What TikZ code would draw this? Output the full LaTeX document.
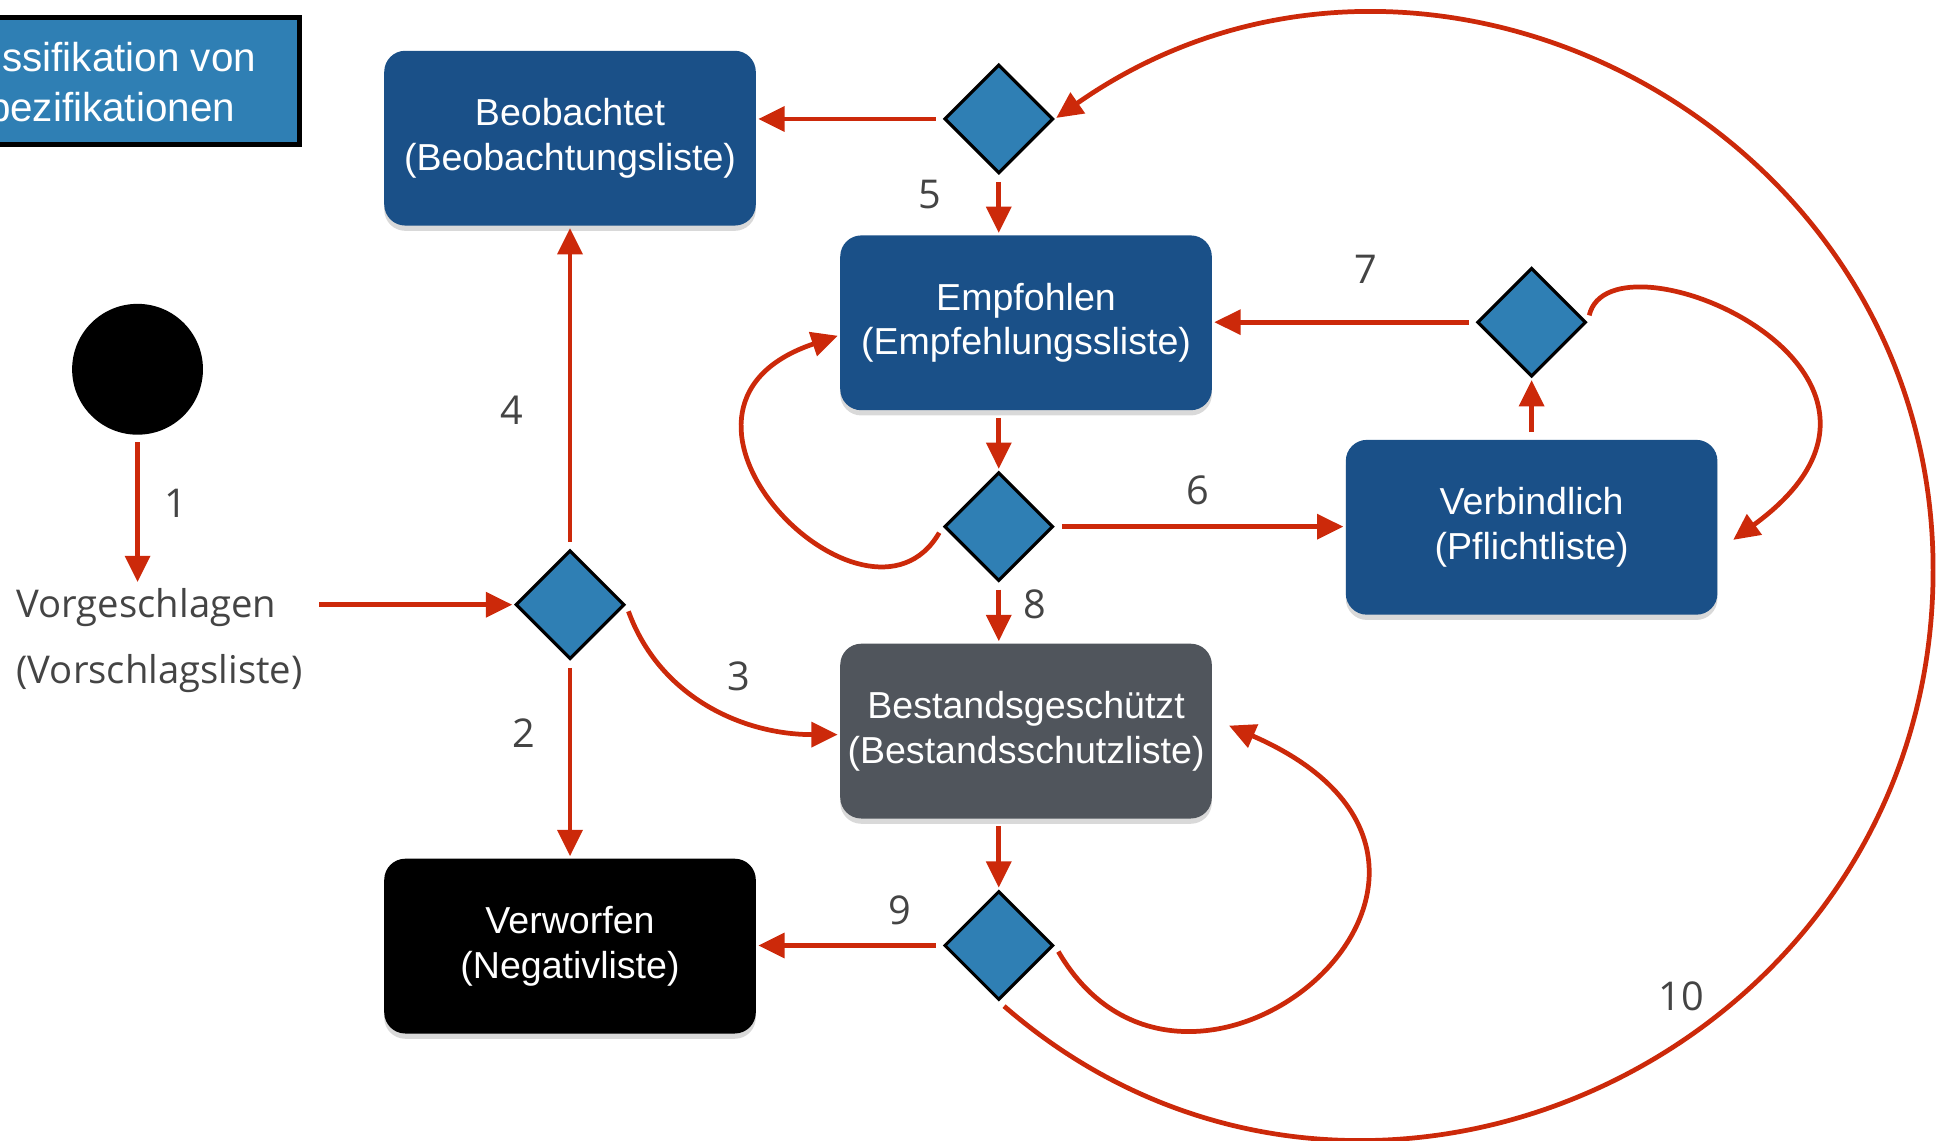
\documentclass[tikz,border=0pt]{standalone}
\usepackage{fontspec}
\setmainfont{Liberation Sans}
\newfontfamily\opensans{Open Sans}
\usetikzlibrary{positioning,calc,arrows.meta,shapes.geometric,shadows}
\definecolor{flowred}{RGB}{204,41,10}
\definecolor{boxblue}{RGB}{26,80,136}
\definecolor{diablue}{RGB}{47,127,180}
\definecolor{boxgray}{RGB}{80,85,92}
\definecolor{txtgray}{RGB}{68,68,68}
\tikzset{font=\fontsize{10.7}{12.7}\selectfont}

\begin{document}
\begin{tikzpicture}[x=0.0124cm, y=0.0124cm]
	\useasboundingbox (0,0) rectangle (1568,920);
	\begin{scope}
		\tikzstyle{every node}=[align=center, inner sep=1pt]
		\tikzstyle{state}=[rectangle, rounded corners=6pt, minimum width=3.72cm, minimum height=1.75cm, fill=boxblue, text=white, drop shadow={shadow xshift=0pt, shadow yshift=-1.5pt, opacity=0.3}]
		\tikzstyle{choice}=[diamond, draw=black, line width=0.9pt, fill=diablue, minimum width=1.09cm, minimum height=1.09cm, inner sep=0pt]
		\tikzstyle{num}=[text=txtgray, font=\opensans\fontsize{11.3}{13}\selectfont]
		\tikzstyle{flow}=[->, >={Triangle[length=7.5pt, width=7pt]}, draw=flowred, line width=1.35pt, shorten <=2pt, shorten >=0.5pt]

		\node[rectangle, draw=black, line width=1.4pt, fill=diablue, minimum width=3.125cm, minimum height=1.277cm] (title) at (116,854.5) {};
		\node[anchor=base east, text=white, font=\fontsize{11.5}{14}\selectfont] (titlea) at (210,862) {ssifikation von};
		\node[anchor=base east, text=white, font=\fontsize{11.5}{14}\selectfont] (titleb) at (193,822) {pezifikationen};

		\node[circle, fill=black, minimum size=1.31cm] (start) at (111,622) {};
		\node[anchor=west, text=txtgray, font=\opensans\fontsize{10.9}{13}\selectfont] (vorg) at (10,430) {Vorgeschlagen};
		\node[anchor=west, text=txtgray, font=\opensans\fontsize{10.9}{13}\selectfont] (vorgl) at (10,376.5) {(Vorschlagsliste)};

		\node[state] (beob) at (460,808.5) {Beobachtet\\(Beobachtungsliste)};
		\node[choice] (dvorg) at (460,432) {};
		\node[state, fill=black] (verw) at (460,156.5) {Verworfen\\(Negativliste)};

		\node[choice] (dbeob) at (806,824) {};
		\node[state] (emp) at (828,659.5) {Empfohlen\\(Empfehlungssliste)};
		\node[choice] (demp) at (806,495) {};
		\node[state, fill=boxgray] (bes) at (828,330) {Bestandsgeschützt\\(Bestandsschutzliste)};
		\node[choice] (dbes) at (806,157) {};

		\node[choice] (dverb) at (1236,660) {};
		\node[state] (verb) at (1236,494.5) {Verbindlich\\(Pflichtliste)};

		\node[num] (n1) at (142,514) {1};
		\node[num] (n2) at (423,328) {2};
		\node[num] (n3) at (596,374) {3};
		\node[num] (n4) at (413,589) {4};
		\node[num] (n5) at (750,763) {5};
		\node[num] (n6) at (967,524) {6};
		\node[num] (n7) at (1102,703) {7};
		\node[num] (n8) at (835,432) {8};
		\node[num] (n9) at (726,185) {9};
		\node[num] (n10) at (1357,116) {10};
		\coordinate (far) at (1560,460);

		\draw[flow] (start.south) -- (start.south |- vorg.north);
		\draw[flow, shorten <=11pt] (vorg.east |- dvorg) -- (dvorg.west);
		\draw[flow] (dvorg.north) -- (beob.south);
		\draw[flow] (dvorg.south) -- (verw.north);
		\draw[flow] (dvorg.east) to[out=-70, in=180] ([yshift=-1pt]bes.west);
		\draw[flow] (dbeob.west) -- (dbeob.west -| beob.east);
		\draw[flow] (dbeob.south) -- (dbeob.south |- emp.north);
		\draw[flow] (dverb.west) -- (dverb.west -| emp.east);
		\draw[flow] (verb.north) -- (dverb.south);
		\draw[flow] (demp.north |- emp.south) -- (demp.north);
		\draw[flow] (demp.east) -- (demp.east -| verb.west);
		\draw[flow] (demp.south) -- (demp.south |- bes.north);
		\draw[flow] (dbes.north |- bes.south) -- (dbes.north);
		\draw[flow] (dbes.west) -- (dbes.west -| verw.east);
		\draw[flow] (dverb.east) .. controls (1300,740) and (1585,620) .. ([shift={(11,-11)}]verb.east);
		\draw[flow] (demp.west) .. controls (700,390) and (500,590) .. ([shift={(0,-10)}]emp.west);
		\draw[flow] (dbes.east) .. controls (960,-30) and (1255,220) .. ([shift={(12,5)}]bes.east);
		\draw[flow] (dbes.south) to[out=-41, in=-90, looseness=1.2] (far) to[out=90, in=35, looseness=1.16] (dbeob.east);
	\end{scope}
\end{tikzpicture}
\end{document}
